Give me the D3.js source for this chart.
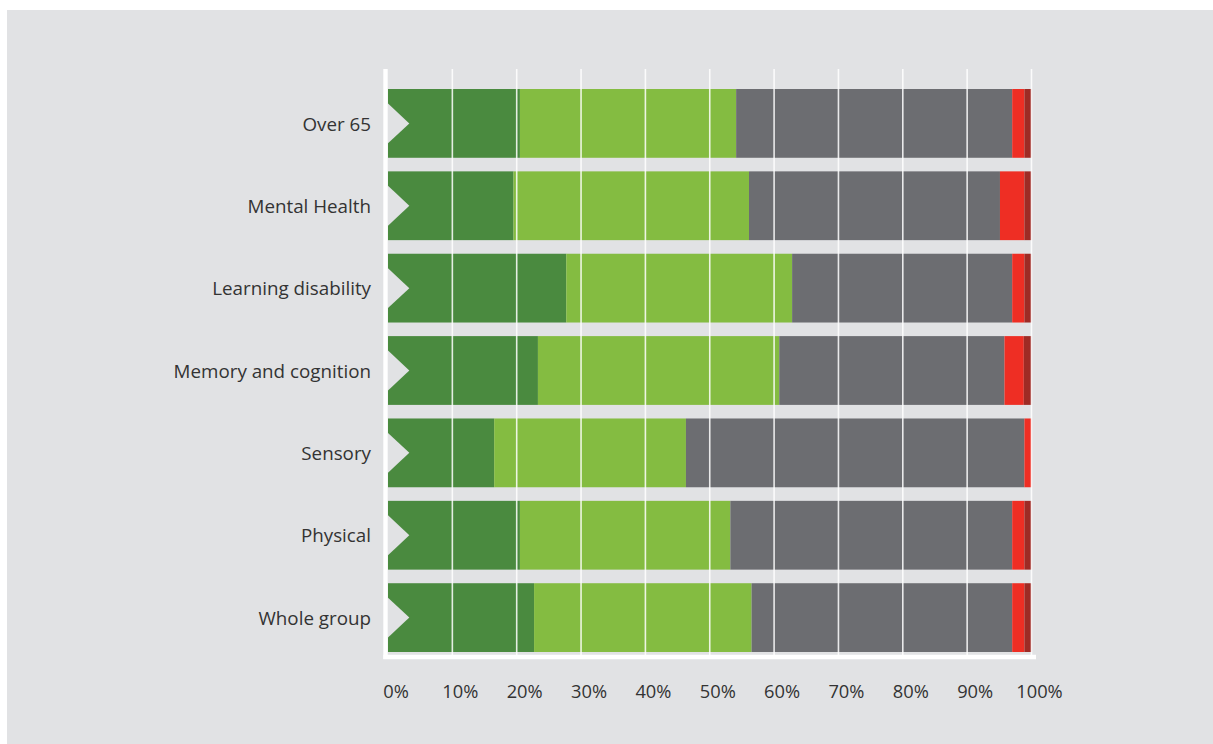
<!DOCTYPE html>
<html>
<head>
<meta charset="utf-8">
<script src="https://cdn.jsdelivr.net/npm/d3@7/dist/d3.min.js"></script>
<style>
  html, body { margin: 0; padding: 0; background: #ffffff; }
  svg { display: block; }
  text { font-family: "Open Sans", "Noto Sans", sans-serif; fill: #333333; }
</style>
</head>
<body>
<svg id="chart" width="1213" height="744"></svg>
<script>
// Categories, top to bottom
const categories = ["Over 65", "Mental Health", "Learning disability", "Memory and cognition", "Sensory", "Physical", "Whole group"];

// Share of each response group (%), one array per stacked segment, in category order
const seriesNames = ["s1", "s2", "s3", "s4", "s5"];
const s1 = [20.5, 19.5, 27.7, 23.3, 16.5, 20.5, 22.7];
const s2 = [33.6, 36.6, 35.1, 37.5, 29.8, 32.7, 33.8];
const s3 = [42.9, 39.0, 34.2, 35.0, 52.6, 43.8, 40.5];
const s4 = [1.9, 3.8, 1.9, 3.0, 1.1, 1.9, 1.9];
const s5 = [1.1, 1.1, 1.1, 1.2, 0.0, 1.1, 1.1];

const tickValues = [0, 10, 20, 30, 40, 50, 60, 70, 80, 90, 100];
const tickLabels = ["0%", "10%", "20%", "30%", "40%", "50%", "60%", "70%", "80%", "90%", "100%"];

const colors = ["#4a8a3f", "#84bc41", "#6c6d71", "#ee2e24", "#9e2b25"];
const panelColor = "#e1e2e4";

const svg = d3.select("#chart");

// Grey panel
svg.append("rect")
  .attr("x", 7).attr("y", 10)
  .attr("width", 1213 - 7).attr("height", 744 - 10)
  .attr("fill", panelColor);

const x = d3.scaleLinear().domain([0, 100]).range([388, 1031.5]);
const y = d3.scaleBand().domain(categories).range([89, 652]).paddingInner(0.165).paddingOuter(0);

// Build stacked rows
const rows = categories.map((c, i) => ({
  cat: c, s1: s1[i], s2: s2[i], s3: s3[i], s4: s4[i], s5: s5[i]
}));
const stacked = d3.stack().keys(seriesNames)(rows);

const g = svg.append("g");

g.selectAll("g.series")
  .data(stacked)
  .join("g")
  .attr("class", "series")
  .attr("fill", (d, i) => colors[i])
  .selectAll("rect")
  .data(d => d)
  .join("rect")
  .attr("x", d => x(d[0]))
  .attr("y", d => y(d.data.cat))
  .attr("width", d => Math.max(0, x(d[1]) - x(d[0])))
  .attr("height", y.bandwidth());

// Chevron notch cut into the left end of every bar
const bw = y.bandwidth();
g.selectAll("path.notch")
  .data(categories)
  .join("path")
  .attr("class", "notch")
  .attr("fill", panelColor)
  .attr("d", c => {
    const cy = y(c) + bw / 2;
    const x0 = x(0);
    return `M${x0},${cy - bw * 0.29}L${x0 + bw * 0.31},${cy}L${x0},${cy + bw * 0.29}Z`;
  });

// Vertical gridlines over the bars
g.selectAll("line.grid")
  .data(tickValues.slice(1))
  .join("line")
  .attr("class", "grid")
  .attr("x1", d => x(d)).attr("x2", d => x(d))
  .attr("y1", 69).attr("y2", 655)
  .attr("stroke", "#ffffff")
  .attr("stroke-opacity", 0.85)
  .attr("stroke-width", 1.6);

// Axis lines
svg.append("line")
  .attr("x1", 385.5).attr("x2", 385.5)
  .attr("y1", 69).attr("y2", 659)
  .attr("stroke", "#ffffff").attr("stroke-width", 4.4);
svg.append("line")
  .attr("x1", 383.3).attr("x2", 1036)
  .attr("y1", 657).attr("y2", 657)
  .attr("stroke", "#ffffff").attr("stroke-width", 4.4);

// Category labels
svg.selectAll("text.cat")
  .data(categories)
  .join("text")
  .attr("class", "cat")
  .attr("x", 371)
  .attr("y", c => y(c) + bw / 2)
  .attr("dy", "0.38em")
  .attr("text-anchor", "end")
  .attr("font-size", 18.8)
  .text(c => c);

// Percentage tick labels
svg.selectAll("text.tick")
  .data(tickValues)
  .join("text")
  .attr("class", "tick")
  .attr("x", d => x(d) + 8)
  .attr("y", 698)
  .attr("text-anchor", "middle")
  .attr("font-size", 18.3)
  .text((d, i) => tickLabels[i]);
</script>
</body>
</html>
